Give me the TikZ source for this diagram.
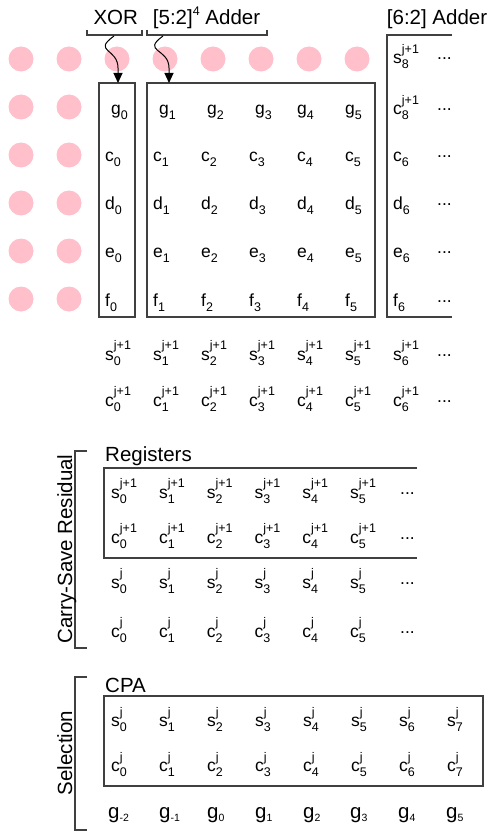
\documentclass[tikz,border=0pt]{standalone}
\usepackage{fontspec}
\setmainfont{Liberation Sans}
\usetikzlibrary{arrows.meta}
\definecolor{dotpink}{HTML}{FFC0CB}
\definecolor{linegray}{HTML}{404040}
\newcommand\cellfont{\fontsize{17.5}{17.5}\selectfont}
\newcommand\scrfont{\fontsize{12.5}{12.5}\selectfont}
\newcommand\lblfont{\fontsize{20.5}{20.5}\selectfont}
\newcommand\vv[3]{#1\rlap{\raisebox{10.5pt}{\scrfont #3}}\raisebox{-5pt}{\scrfont #2}}
\newcommand\gbottom[1]{{\fontsize{20.5}{20.5}\selectfont g}\raisebox{-3.5pt}{\fontsize{10.5}{10.5}\selectfont #1}}
\newcommand\mdots{\raisebox{4pt}{...}}
\begin{document}
\begin{tikzpicture}[x=1pt,y=-1pt,
  cell/.style={anchor=base west, inner sep=0pt, font=\cellfont},
  lbl/.style={anchor=base west, inner sep=0pt, font=\lblfont},
  boxline/.style={draw=linegray, line width=1.3pt},
  brk/.style={draw=linegray, line width=1.3pt},
  curvearrow/.style={draw=black, line width=1pt, -{Triangle[length=10pt,width=9pt]}}]
\useasboundingbox (0,0) rectangle (490,834);
% pink dots
\foreach \i in {0,...,7} \fill[dotpink] (21+48*\i,59) circle (12.5pt);
\foreach \r in {1,...,5} \foreach \i in {0,1} \fill[dotpink] (21+48*\i,59+48*\r) circle (12.5pt);

% top labels
\node[lbl] (xorl) at (93.3,25) {XOR};
\node[lbl] (addl) at (152.7,25) {[5:2]\raisebox{9pt}{\scrfont 4} Adder};
\node[lbl] (add6l) at (386.7,25) {[6:2] Adder};

% brackets
\draw[brk] (87,30) -- (87,35) -- (142,35) -- (142,30);
\draw[brk] (147,30) -- (147,35) -- (267,35) -- (267,30);
\coordinate (xorb) at (114,36);
\coordinate (addb) at (163,36);

% boxes
\draw[boxline] (99,83) rectangle (135,317);
\draw[boxline] (147,83) rectangle (375,317);
\draw[boxline] (452,35) -- (387,35) -- (387,317) -- (452,317);
\coordinate (xort) at (118,83);
\coordinate (addt) at (169,83);

% arrows
\draw[curvearrow] (xorb) .. controls (92,52) and (118,48) .. (118,68) -- (xort);
\draw[curvearrow] (addb) .. controls (141,52) and (169,48) .. (169,68) -- (addt);

% [6:2] column top
\node[cell] (s8) at (393,64) {\vv{s}{8}{j+1}};
\node[cell] (s8d) at (437,64) {\mdots};

% g row
\node[cell] (g0) at (111,115) {\vv{g}{0}{}};
\node[cell] (g1) at (159,115) {\vv{g}{1}{}};
\node[cell] (g2) at (207,115) {\vv{g}{2}{}};
\node[cell] (g3) at (255,115) {\vv{g}{3}{}};
\node[cell] (g4) at (297,115) {\vv{g}{4}{}};
\node[cell] (g5) at (345,115) {\vv{g}{5}{}};
\node[cell] (c8) at (393,115) {\vv{c}{8}{j+1}};
\node[cell] (c8d) at (437,115) {\mdots};

% c d e f rows
\foreach \l/\y in {c/162,d/210,e/257,f/306} {
  \foreach \k in {0,...,6} {
    \node[cell] (\l\k) at (105+48*\k,\y) {\vv{\l}{\k}{}};
  }
  \node[cell] (\l d) at (437,\y) {\mdots};
}

% sum rows
\foreach \l/\y in {s/360,c/406} {
  \foreach \k in {0,...,6} {
    \node[cell] (n\l\k) at (105+48*\k,\y) {\vv{\l}{\k}{j+1}};
  }
  \node[cell] (n\l d) at (437,\y) {\mdots};
}

% Registers
\node[lbl] (regl) at (105,461) {Registers};
\draw[boxline] (417,468) -- (104,468) -- (104,558) -- (417,558);
\foreach \l/\s/\y in {s/j+1/498,c/j+1/543,s/j/588,c/j/637} {
  \foreach \k in {0,...,5} {
    \node[cell] (r\l\y\k) at (111+47.8*\k,\y) {\vv{\l}{\k}{\s}};
  }
  \node[cell] (r\l\y d) at (400,\y) {\mdots};
}
\draw[brk] (87,451) -- (75,451) -- (75,648) -- (87,648);
\node[rotate=90, anchor=base, inner sep=0pt, font=\lblfont] (csr) at (72,549) {Carry-Save Residual};

% CPA
\node[lbl] (cpal) at (105,692) {CPA};
\draw[boxline] (104,696) rectangle (483,786);
\foreach \l/\y in {s/726.5,c/771.5} {
  \foreach \k in {0,...,7} {
    \node[cell] (p\l\k) at (111+48*\k,\y) {\vv{\l}{\k}{j}};
  }
}
\foreach \t/\x [count=\n] in {-2/108,-1/159,0/207,1/255,2/303,3/350,4/398,5/446} {
  \node[cell] (bg\n) at (\x,818) {\gbottom{\t}};
}
\draw[brk] (87,677) -- (75,677) -- (75,830) -- (87,830);
\node[rotate=90, anchor=base, inner sep=0pt, font=\lblfont] (sel) at (72,753) {Selection};
\end{tikzpicture}
\end{document}
